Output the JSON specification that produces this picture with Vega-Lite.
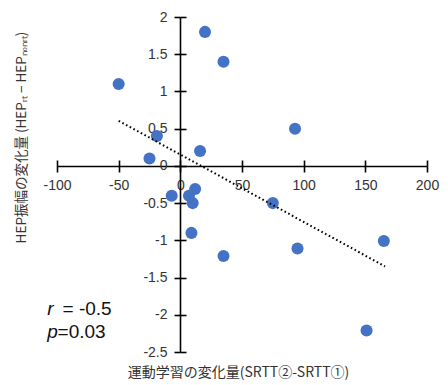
{
  "$schema": "https://vega.github.io/schema/vega-lite/v6.json",
  "width": 370,
  "height": 335,
  "autosize": "none",
  "padding": {"left": 57, "top": 17, "right": 21, "bottom": 33},
  "background": "white",
  "config": {"view": {"stroke": null}, "font": "Liberation Sans"},
  "datasets": {
    "points": [
      {"x": 20, "y": 1.8}, {"x": 35, "y": 1.4}, {"x": -50, "y": 1.1}, {"x": 93, "y": 0.5},
      {"x": -19, "y": 0.4}, {"x": 16, "y": 0.2}, {"x": -25, "y": 0.1}, {"x": -7, "y": -0.4},
      {"x": 7, "y": -0.4}, {"x": 12, "y": -0.31}, {"x": 10, "y": -0.5}, {"x": 75, "y": -0.5},
      {"x": 9, "y": -0.9}, {"x": 35, "y": -1.21}, {"x": 95, "y": -1.11}, {"x": 165, "y": -1.01},
      {"x": 151, "y": -2.21}
    ],
    "trend": [{"x": -50, "y": 0.605}, {"x": 166, "y": -1.35}],
    "statsItalic": [{"t": "r", "x": -108, "y": -1.92}, {"t": "p", "x": -108, "y": -2.23}],
    "statsPlain": [{"t": "= -0.5", "x": -95.5, "y": -1.92}, {"t": "=0.03", "x": -99.5, "y": -2.23}]
  },
  "resolve": {"axis": {"x": "independent", "y": "independent"}},
  "layer": [
    {
      "data": {"name": "points"},
      "mark": {"type": "point", "filled": true, "opacity": 1, "size": 145, "color": "#4472C4"},
      "encoding": {
        "x": {"field": "x", "type": "quantitative", "scale": {"domain": [-100, 200], "nice": false, "zero": false},
          "axis": {"orient": "bottom", "offset": -186, "values": [-100, -50, 0, 50, 100, 150, 200], "grid": false,
            "domainColor": "#000", "domainWidth": 1.6, "tickColor": "#000", "tickWidth": 1.6, "tickSize": 6,
            "labelFontSize": 14, "labelColor": "#333", "labelPadding": 6, "labelOverlap": false, "labelFlush": false,
            "labelExpr": "'' + datum.value",
            "title": "運動学習の変化量(SRTT②-SRTT①)", "titleFont": "Noto Sans CJK JP", "titleFontSize": 14, "titleFontWeight": "normal",
            "titleColor": "#333", "titleX": 181, "titleY": 206, "titleBaseline": "middle", "titleAlign": "center"}},
        "y": {"field": "y", "type": "quantitative", "scale": {"domain": [-2.5, 2], "nice": false, "zero": false},
          "axis": {"orient": "left", "offset": -123, "values": [-2.5, -2, -1.5, -1, -0.5, 0, 0.5, 1, 1.5, 2], "grid": false,
            "domainColor": "#000", "domainWidth": 1.6, "tickColor": "#000", "tickWidth": 1.6, "tickSize": 6,
            "labelFontSize": 14, "labelColor": "#333", "labelPadding": 7, "labelOverlap": false, "labelFlush": false,
            "labelExpr": "'' + datum.value",
            "title": "HEP振幅の変化量 (HEPᵣₜ − HEPₙₒₙᵣₜ)", "titleFont": "Noto Sans CJK JP", "titleFontSize": 13.5, "titleFontWeight": "normal",
            "titleColor": "#333", "titleX": -159, "titleY": 120, "titleAngle": -90, "titleBaseline": "middle", "titleAlign": "center"}}
      }
    },
    {
      "data": {"name": "trend"},
      "mark": {"type": "line", "color": "#000", "strokeWidth": 2, "strokeDash": [1.6, 2.6]},
      "encoding": {
        "x": {"field": "x", "type": "quantitative",
          "axis": {"orient": "bottom", "offset": -186, "values": [-100, -50, 0, 50, 100, 150, 200], "grid": false,
            "domain": false, "labels": false, "tickColor": "#000", "tickWidth": 1.6, "tickSize": -6, "title": null}},
        "y": {"field": "y", "type": "quantitative",
          "axis": {"orient": "left", "offset": -123, "values": [-2.5, -2, -1.5, -1, -0.5, 0, 0.5, 1, 1.5, 2], "grid": false,
            "domain": false, "labels": false, "tickColor": "#000", "tickWidth": 1.6, "tickSize": -6, "title": null}}
      }
    },
    {
      "data": {"name": "statsItalic"},
      "mark": {"type": "text", "align": "left", "baseline": "middle", "fontSize": 19, "fontStyle": "italic", "color": "#111"},
      "encoding": {
        "x": {"field": "x", "type": "quantitative", "axis": null},
        "y": {"field": "y", "type": "quantitative", "axis": null},
        "text": {"field": "t"}
      }
    },
    {
      "data": {"name": "statsPlain"},
      "mark": {"type": "text", "align": "left", "baseline": "middle", "fontSize": 19, "color": "#111"},
      "encoding": {
        "x": {"field": "x", "type": "quantitative", "axis": null},
        "y": {"field": "y", "type": "quantitative", "axis": null},
        "text": {"field": "t"}
      }
    }
  ]
}
